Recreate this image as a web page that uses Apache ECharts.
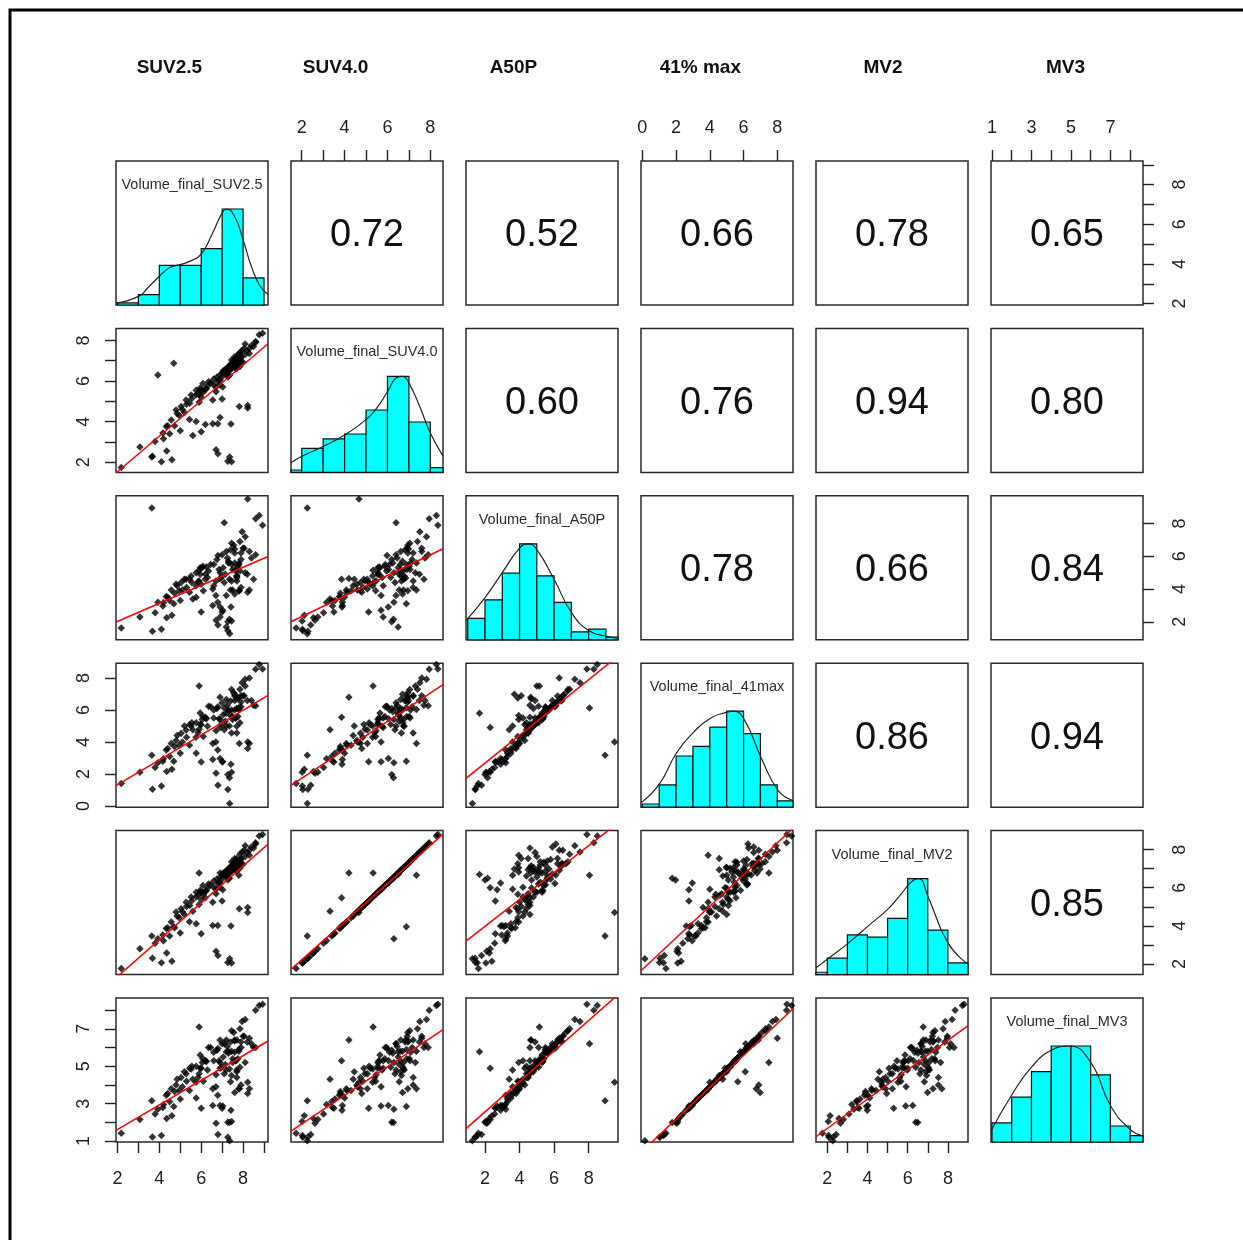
<!DOCTYPE html>
<html><head><meta charset="utf-8">
<script src="https://cdn.jsdelivr.net/npm/echarts@6/dist/echarts.min.js"></script>
<style>html,body{margin:0;padding:0;background:#fff}#c{width:1243px;height:1240px}</style>
</head><body><div id="c"></div>
<script>
// ---------------- data ----------------
const varTitles = ['SUV2.5', 'SUV4.0', 'A50P', '41% max', 'MV2', 'MV3'];
const diagLabels = ['Volume_final_SUV2.5', 'Volume_final_SUV4.0', 'Volume_final_A50P', 'Volume_final_41max', 'Volume_final_MV2', 'Volume_final_MV3'];

const suv25 = [
  2.18, 3.07, 3.67, 4.10, 4.35, 3.64, 7.36, 6.71, 6.80, 7.27,
  7.45, 4.60, 3.80, 4.20, 4.17, 4.33, 4.49, 4.73, 5.60, 6.20,
  6.79, 7.42, 4.40, 6.00, 6.55, 5.00, 4.57, 4.80, 5.04, 4.95,
  5.20, 6.90, 5.30, 7.82, 8.22, 5.10, 5.45, 5.76, 5.44, 8.22,
  4.85, 5.90, 5.28, 5.52, 5.76, 6.08, 5.85, 6.20, 6.30, 6.00,
  5.95, 6.45, 6.10, 6.60, 6.35, 6.70, 6.80, 6.55, 6.71, 5.95,
  5.75, 5.55, 6.05, 5.90, 6.25, 6.60, 6.75, 6.90, 7.00, 7.05,
  7.15, 7.20, 7.30, 7.35, 7.40, 7.50, 7.55, 7.10, 6.95, 7.25,
  7.65, 7.70, 7.80, 6.85, 7.45, 7.60, 7.30, 7.85, 8.00, 7.27,
  7.35, 7.03, 6.90, 7.00, 7.20, 6.90, 3.93, 4.69, 7.60, 7.80,
  7.90, 7.40, 8.10, 8.30, 7.70, 7.50, 7.70, 7.20, 7.45, 7.90,
  7.10, 7.45, 7.60, 7.80, 7.95, 8.50, 8.10, 8.30, 7.70, 7.90,
  8.20, 7.65, 8.60, 8.77, 8.93, 7.85, 8.05, 8.40, 7.60, 8.60, 7.75
];
const suv40 = [
  1.74, 2.75, 2.29, 2.03, 2.55, 2.26, 2.26, 2.62, 2.42, 2.05,
  2.02, 2.12, 3.02, 3.16, 3.44, 3.76, 3.40, 3.80, 3.32, 3.86,
  3.90, 3.88, 3.80, 3.50, 3.90, 3.55, 4.08, 4.57, 4.74, 4.30,
  4.45, 4.20, 4.85, 4.74, 4.80, 4.60, 4.90, 4.00, 4.10, 4.67,
  4.40, 4.95, 5.06, 5.31, 5.55, 5.88, 5.40, 5.60, 5.75, 5.20,
  5.65, 5.90, 5.45, 5.80, 5.96, 5.70, 5.98, 5.06, 5.47, 5.55,
  5.31, 5.14, 5.55, 5.33, 5.62, 6.10, 6.20, 6.30, 6.40, 6.50,
  6.55, 6.62, 6.70, 6.75, 6.82, 6.90, 6.95, 6.35, 6.15, 6.45,
  6.60, 6.78, 6.88, 6.05, 6.65, 6.98, 6.25, 6.72, 6.92, 6.20,
  6.28, 5.70, 6.04, 5.12, 6.50, 5.80, 6.30, 6.88, 6.70, 6.95,
  7.20, 6.55, 7.30, 7.60, 6.62, 6.75, 6.85, 6.40, 6.60, 6.95,
  6.40, 7.04, 7.20, 7.35, 7.51, 7.70, 7.82, 7.35, 7.20, 7.15,
  7.49, 7.05, 7.95, 8.28, 8.35, 7.40, 7.60, 7.75, 7.08, 7.90, 7.02
];
const a50p = [
  1.62, 2.30, 1.43, 1.55, 2.25, 8.95, 1.27, 2.10, 1.80, 1.45,
  2.05, 2.40, 2.56, 3.18, 2.97, 3.55, 3.30, 3.75, 3.40, 4.60,
  3.20, 2.90, 3.50, 2.60, 3.00, 3.30, 3.95, 4.30, 4.40, 3.90,
  4.60, 4.65, 4.10, 3.90, 3.80, 3.95, 4.60, 3.50, 3.80, 9.50,
  4.20, 4.50, 4.60, 4.80, 5.00, 5.40, 4.45, 4.90, 4.70, 4.30,
  5.30, 5.50, 3.90, 4.20, 5.10, 3.60, 6.05, 4.00, 4.50, 4.90,
  4.20, 4.40, 5.30, 5.15, 5.35, 5.50, 5.80, 5.00, 6.10, 5.30,
  4.90, 6.30, 5.70, 4.60, 6.40, 5.20, 6.68, 4.40, 4.70, 5.90,
  5.10, 4.80, 5.50, 5.20, 4.50, 6.45, 5.60, 5.10, 6.50, 2.00,
  2.15, 2.70, 2.90, 2.60, 1.68, 2.30, 3.20, 3.10, 3.70, 3.90,
  4.10, 3.95, 5.00, 6.30, 4.80, 3.95, 4.67, 3.60, 5.50, 6.20,
  8.05, 6.80, 6.20, 5.60, 7.50, 4.60, 7.20, 3.95, 4.50, 5.80,
  4.90, 5.20, 8.30, 8.50, 7.90, 6.90, 6.50, 5.90, 5.60, 6.10, 5.40
];
const max41 = [
  1.40, 2.10, 1.05, 1.25, 2.15, 3.17, 0.15, 2.05, 1.30, 1.02,
  2.10, 2.30, 2.40, 2.95, 2.80, 3.50, 3.10, 3.72, 4.77, 5.55,
  3.50, 2.60, 3.60, 2.75, 2.90, 3.30, 3.90, 4.10, 4.55, 3.80,
  5.00, 6.80, 4.30, 3.90, 3.60, 4.00, 5.10, 3.30, 3.80, 4.00,
  4.40, 4.80, 4.75, 5.00, 5.20, 5.60, 4.60, 5.50, 4.98, 5.08,
  5.82, 6.20, 4.35, 5.50, 6.24, 4.00, 6.20, 3.90, 4.70, 5.10,
  4.30, 5.20, 5.40, 7.50, 5.45, 6.00, 6.10, 5.40, 6.45, 5.70,
  5.30, 6.66, 6.00, 5.00, 6.56, 5.60, 7.08, 4.77, 5.10, 6.30,
  5.50, 4.98, 6.14, 5.45, 4.56, 6.60, 5.90, 5.20, 6.90, 1.97,
  1.77, 2.76, 2.96, 2.76, 5.80, 4.90, 2.70, 2.80, 6.98, 6.75,
  6.90, 5.66, 7.50, 8.00, 6.10, 5.40, 6.70, 5.00, 6.00, 6.50,
  6.13, 7.29, 6.87, 6.03, 7.71, 6.30, 7.92, 3.90, 4.56, 6.20,
  6.60, 5.50, 8.55, 8.85, 8.57, 7.30, 6.90, 6.60, 6.00, 6.26, 5.60
];
const mv2 = [
  1.76, 2.80, 2.30, 2.06, 2.58, 3.46, 2.27, 2.66, 2.44, 2.08,
  2.05, 2.14, 3.08, 3.22, 3.52, 3.86, 3.47, 3.90, 4.76, 5.47,
  4.02, 3.99, 3.90, 3.58, 4.02, 3.63, 4.20, 4.72, 4.90, 4.42,
  4.59, 6.77, 5.02, 4.90, 4.96, 4.74, 5.07, 4.11, 4.22, 4.70,
  4.52, 5.12, 5.24, 5.52, 5.76, 6.12, 5.60, 5.82, 5.98, 5.38,
  5.87, 6.14, 5.66, 6.03, 6.20, 5.92, 6.22, 5.24, 5.68, 5.76,
  5.52, 5.32, 5.76, 6.77, 5.84, 6.35, 6.46, 6.56, 6.67, 6.78,
  6.83, 6.90, 6.99, 7.05, 7.12, 7.20, 7.26, 6.61, 6.40, 6.72,
  6.88, 7.08, 7.18, 6.29, 6.94, 7.29, 6.51, 7.02, 7.23, 6.40,
  6.50, 5.90, 6.25, 5.30, 6.70, 6.00, 3.32, 3.95, 6.99, 7.26,
  7.53, 6.83, 7.64, 7.97, 6.90, 7.05, 7.15, 6.66, 6.88, 7.26,
  6.66, 7.36, 7.53, 6.65, 7.87, 8.08, 8.21, 7.70, 7.53, 7.48,
  7.85, 7.37, 8.36, 8.72, 8.80, 7.76, 7.97, 8.14, 7.40, 8.30, 7.34
];
const mv3 = [
  1.42, 2.15, 1.22, 1.30, 2.20, 3.16, 1.02, 1.95, 1.35, 1.20,
  2.05, 2.35, 2.45, 2.95, 2.80, 3.45, 3.10, 3.65, 4.30, 5.30,
  3.45, 2.65, 3.55, 2.75, 2.90, 3.25, 3.80, 4.00, 4.40, 3.70,
  4.70, 6.40, 4.20, 3.80, 3.55, 3.90, 4.90, 3.30, 3.70, 4.14,
  4.30, 4.60, 4.60, 4.85, 5.00, 5.40, 4.40, 5.30, 4.80, 4.90,
  5.60, 6.00, 4.20, 5.30, 6.00, 3.90, 5.95, 3.80, 4.55, 4.90,
  4.15, 5.00, 5.20, 7.10, 5.25, 5.75, 5.85, 5.20, 6.20, 5.50,
  5.10, 6.40, 5.80, 4.85, 6.30, 5.40, 6.80, 4.60, 4.95, 6.05,
  5.30, 4.80, 5.90, 5.30, 4.50, 6.35, 5.70, 4.95, 6.60, 2.00,
  1.99, 2.88, 2.90, 2.75, 5.78, 4.89, 2.70, 2.85, 3.60, 3.80,
  4.00, 4.17, 5.20, 6.50, 4.70, 5.20, 6.40, 4.80, 5.80, 6.30,
  6.20, 6.90, 6.40, 5.80, 7.40, 6.00, 7.50, 3.80, 4.40, 6.00,
  6.30, 5.30, 8.00, 8.25, 8.31, 7.00, 6.60, 6.20, 5.75, 6.00, 5.40
];

// axis scales per variable
const axisMin = [1.93, 1.5, 0.9, -0.08, 1.44, 0.95];
const axisMax = [9.19, 8.59, 9.7, 8.93, 9.0, 8.65];
const tickValues = [[2,3,4,5,6,7,8,9],[2,3,4,5,6,7,8],[2,4,6,8],[0,2,4,6,8],[2,3,4,5,6,7,8],[1,2,3,4,5,6,7,8]];
const tickLabels = [[2,4,6,8],[2,4,6,8],[2,4,6,8],[0,2,4,6,8],[2,4,6,8],[1,3,5,7]];

// histogram breaks and counts
const breaksSUV25 = [2,3,4,5,6,7,8,9];        const countsSUV25 = [1,5,19,19,27,46,13];
const breaksSUV40 = [1,2,3,4,5,6,7,8,9];      const countsSUV40 = [1,10,14,16,26,40,21,2];
const breaksA50P  = [1,2,3,4,5,6,7,8,9,10];   const countsA50P  = [8,15,25,36,24,14,3,4,1];
const breaks41    = [0,1,2,3,4,5,6,7,8,9];    const counts41    = [1,7,16,19,25,30,23,7,2];
const breaksMV2   = [1,2,3,4,5,6,7,8,9];      const countsMV2   = [1,7,17,16,24,41,19,5];
const breaksMV3   = [1,2,3,4,5,6,7,8,9];      const countsMV3   = [6,14,22,30,30,21,5,2];

// density curves (relative to tallest bar)
const densSUV25X = [1.93, 3, 3.5, 4, 4.5, 5, 5.5, 6, 6.5, 7, 7.2, 7.6, 8, 8.4, 8.8, 9.19];
const densSUV25Y = [0.02, 0.09, 0.19, 0.30, 0.39, 0.42, 0.46, 0.53, 0.73, 0.96, 1.0, 0.92, 0.68, 0.40, 0.20, 0.11];
const densSUV40X = [1.5, 2.03, 3, 4, 5, 5.5, 6, 6.45, 6.7, 7, 7.5, 8, 8.59];
const densSUV40Y = [0.10, 0.17, 0.27, 0.39, 0.55, 0.67, 0.84, 0.99, 1.0, 0.93, 0.69, 0.41, 0.17];
const densA50PX = [0.9, 2, 3, 4, 4.5, 5, 6, 7, 8, 9, 9.7];
const densA50PY = [0.20, 0.44, 0.70, 0.955, 1.0, 0.94, 0.63, 0.285, 0.096, 0.038, 0.017];
const dens41X = [-0.08, 1, 2.04, 3.03, 4.06, 5.04, 5.4, 6.05, 7.08, 8.07, 8.93];
const dens41Y = [0.045, 0.24, 0.57, 0.78, 0.93, 0.99, 1.0, 0.91, 0.50, 0.17, 0.07];
const densMV2X = [1.44, 2, 3, 4, 5, 5.6, 6.25, 6.55, 7, 8, 8.99];
const densMV2Y = [0.07, 0.16, 0.32, 0.50, 0.68, 0.82, 0.98, 1.0, 0.82, 0.33, 0.11];
const densMV3X = [0.95, 2, 3, 4, 4.9, 6, 7, 8, 8.65];
const densMV3Y = [0.115, 0.49, 0.78, 0.955, 1.0, 0.83, 0.38, 0.13, 0.063];

// correlations shown in the upper panels (row by row)
const corrSUV25 = ['0.72', '0.52', '0.66', '0.78', '0.65'];
const corrSUV40 = ['0.60', '0.76', '0.94', '0.80'];
const corrA50P  = ['0.78', '0.66', '0.84'];
const corr41    = ['0.86', '0.94'];
const corrMV2   = ['0.85'];

// ---------------- build ----------------
const vars = [suv25, suv40, a50p, max41, mv2, mv3];
const breaks = [breaksSUV25, breaksSUV40, breaksA50P, breaks41, breaksMV2, breaksMV3];
const counts = [countsSUV25, countsSUV40, countsA50P, counts41, countsMV2, countsMV3];
const densX = [densSUV25X, densSUV40X, densA50PX, dens41X, densMV2X, densMV3X];
const densY = [densSUV25Y, densSUV40Y, densA50PY, dens41Y, densMV2Y, densMV3Y];
const corrs = [corrSUV25, corrSUV40, corrA50P, corr41, corrMV2];

const L0 = 116, T0 = 161, DX = 175, DY = 167.4, W = 152, H = 144;
const titleX = [169.4, 335.6, 513.4, 700.3, 883, 1065.5];
const FONT = 'Liberation Sans, Arial, Helvetica, sans-serif';

function fit(xs, ys) {
  const n = xs.length;
  let mx = 0, my = 0;
  for (let k = 0; k < n; k++) { mx += xs[k]; my += ys[k]; }
  mx /= n; my /= n;
  let sxy = 0, sxx = 0;
  for (let k = 0; k < n; k++) { sxy += (xs[k]-mx)*(ys[k]-my); sxx += (xs[k]-mx)*(xs[k]-mx); }
  const b = sxy / sxx;
  return [my - b*mx, b];
}

const grids = [], xAxes = [], yAxes = [], series = [], graphics = [];
const tickStyle = {color: '#222', width: 1.4};
const labelBase = {fontSize: 18, color: '#222', fontFamily: FONT};

for (let i = 0; i < 6; i++) {
  for (let j = 0; j < 6; j++) {
    const g = i*6 + j;
    const left = L0 + DX*j, top = T0 + DY*i;
    grids.push({left: left, top: top, width: W, height: H, show: true,
      borderColor: '#2a2a2a', borderWidth: 1.5, backgroundColor: 'rgba(0,0,0,0)'});
    const showX = (i === 0 && j % 2 === 1) || (i === 5 && j % 2 === 0);
    const showY = (j === 0 && i % 2 === 1) || (j === 5 && i % 2 === 0);
    xAxes.push({
      gridIndex: g, type: 'value', min: axisMin[j], max: axisMax[j],
      position: i === 0 ? 'top' : 'bottom', show: showX,
      axisLine: {show: false}, splitLine: {show: false},
      axisTick: {show: true, inside: false, length: 11, lineStyle: tickStyle, customValues: tickValues[j]},
      axisLabel: Object.assign({show: true, customValues: tickLabels[j], margin: i === 0 ? 24 : 28}, labelBase)
    });
    if (i === j) {
      yAxes.push({gridIndex: g, type: 'value', min: 0, max: 1.5, show: false});
    } else {
      yAxes.push({
        gridIndex: g, type: 'value', min: axisMin[i], max: axisMax[i],
        position: j === 0 ? 'left' : 'right', show: showY,
        axisLine: {show: false}, splitLine: {show: false},
        axisTick: {show: true, inside: false, length: 11, lineStyle: tickStyle, customValues: tickValues[i]},
        axisLabel: Object.assign({show: true, rotate: 90, customValues: tickLabels[i], margin: j === 0 ? 23 : 28}, labelBase)
      });
    }

    const cx = left + W/2, cy = top + H/2;
    if (i === j) {
      const br = breaks[i], ct = counts[i];
      const mx = Math.max.apply(null, ct);
      const hd = [];
      for (let k = 0; k < ct.length; k++) hd.push([br[k], br[k+1], ct[k]/mx]);
      series.push({
        type: 'custom', xAxisIndex: g, yAxisIndex: g, data: hd, silent: true, z: 2,
        renderItem: function (params, api) {
          const cs = params.coordSys;
          const pA = api.coord([api.value(0), 0]);
          const pB = api.coord([api.value(1), api.value(2)]);
          const l = Math.max(pA[0], cs.x), r = Math.min(pB[0], cs.x + cs.width);
          if (r <= l) return null;
          return {type: 'rect', shape: {x: l, y: pB[1], width: r - l, height: pA[1] - pB[1]},
            style: {fill: '#00ffff', stroke: '#111', lineWidth: 1.2}};
        }
      });
      const dd = densX[i].map((x, k) => [x, densY[i][k]]);
      series.push({type: 'line', xAxisIndex: g, yAxisIndex: g, data: dd, smooth: 0.5,
        showSymbol: false, silent: true, clip: true, z: 3,
        lineStyle: {color: '#222', width: 1.2}});
      graphics.push({type: 'text', x: cx, y: top + 24, z: 10,
        style: {text: diagLabels[i], fontSize: 14.5, fontFamily: FONT, fill: '#2b2b2b',
          align: 'center', verticalAlign: 'middle', textAlign: 'center', textVerticalAlign: 'middle'}});
    } else if (i > j) {
      const xs = vars[j], ys = vars[i];
      const pts = xs.map((x, k) => [x, ys[k]]);
      series.push({type: 'scatter', xAxisIndex: g, yAxisIndex: g, data: pts, symbol: 'diamond',
        symbolSize: 7.5, silent: true, z: 2, itemStyle: {color: '#000'}});
      const ab = fit(xs, ys);
      const x0 = axisMin[j], x1 = axisMax[j];
      series.push({type: 'line', xAxisIndex: g, yAxisIndex: g, data: [[x0, ab[0] + ab[1]*x0], [x1, ab[0] + ab[1]*x1]],
        showSymbol: false, silent: true, clip: true, z: 4, lineStyle: {color: '#ff0000', width: 1.5}});
    } else {
      graphics.push({type: 'text', x: cx, y: cy + 3, z: 10,
        style: {text: corrs[i][j - i - 1], fontSize: 38, fontFamily: FONT, fill: '#111',
          align: 'center', verticalAlign: 'middle', textAlign: 'center', textVerticalAlign: 'middle'}});
    }
  }
}

for (let k = 0; k < 6; k++) {
  graphics.push({type: 'text', x: titleX[k], y: 68, z: 10,
    style: {text: varTitles[k], fontSize: 19, fontWeight: 'bold', fontFamily: FONT, fill: '#111',
      align: 'center', verticalAlign: 'middle', textAlign: 'center', textVerticalAlign: 'middle'}});
}
graphics.push({type: 'rect', shape: {x: 10, y: 10, width: 1300, height: 1300}, z: 20,
  style: {fill: null, stroke: '#000', lineWidth: 3}});

const chart = echarts.init(document.getElementById('c'), null, {width: 1243, height: 1240});
chart.setOption({
  animation: false,
  backgroundColor: '#ffffff',
  grid: grids, xAxis: xAxes, yAxis: yAxes, series: series, graphic: graphics
});
</script>
</body></html>
